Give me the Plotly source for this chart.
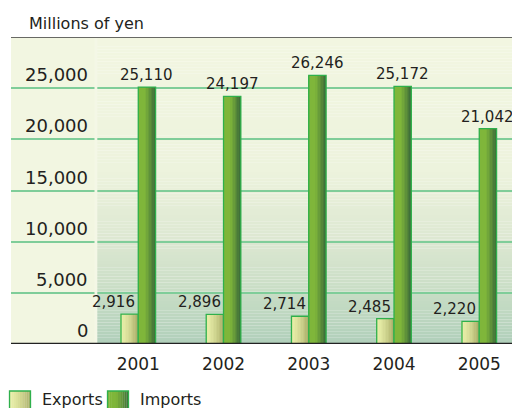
import plotly.graph_objects as go

# --- data -------------------------------------------------------------
years = ["2001", "2002", "2003", "2004", "2005"]
exports = [2916, 2896, 2714, 2485, 2220]
imports = [25110, 24197, 26246, 25172, 21042]
y_ticks = [0, 5000, 10000, 15000, 20000, 25000]
y_tick_text = ["0", "5,000", "10,000", "15,000", "20,000", "25,000"]
unit_label = "Millions of yen"
series_names = ["Exports", "Imports"]

# --- geometry ---------------------------------------------------------
W, H = 512, 408
L, R, T, B = 11, 0, 37, 64
PW, PH = W - L - R, H - T - B
X_RANGE = [-1.493, 4.384]
Y_RANGE = [0, 30000]
BAR_W = 0.203
FONT = "DejaVu Sans"
INK = "#231f20"


def px_x(px):
    return (px - L) / PW


def px_y(py):
    return (H - B - py) / PH


def hex_rgb(h):
    h = h.lstrip("#")
    return tuple(int(h[i:i + 2], 16) for i in (0, 2, 4))


def mix(a, b, t):
    ca, cb = hex_rgb(a), hex_rgb(b)
    c = [round(ca[i] + (cb[i] - ca[i]) * t) for i in range(3)]
    return "rgb(%d,%d,%d)" % tuple(c)


def stops_color(stops, v):
    # stops: list of (value, colour) sorted by value
    for (v0, c0), (v1, c1) in zip(stops, stops[1:]):
        if v0 <= v <= v1:
            return mix(c0, c1, (v - v0) / (v1 - v0))
    return mix(stops[-1][1], stops[-1][1], 0)


EXP_STYLE = dict(left="#e8eea8", right="#a9ad68", profile=lambda s: s ** 1.6)
IMP_STYLE = dict(left="#7fb63a", right="#3b6a39",
                 profile=lambda s: max(0.0, (s - 0.4) / 0.6) ** 1.1)
BORDER = "#2fb04c"

xs = list(range(len(years)))
fig = go.Figure()


def gradient_bars(values, offset, style, n=12):
    for i in range(n):
        s = (i + 0.5) / n
        fig.add_trace(go.Bar(
            x=xs, y=values, offset=offset + i * BAR_W / n, width=BAR_W / n * 1.05,
            marker=dict(color=mix(style["left"], style["right"], style["profile"](s)),
                        line=dict(width=0)),
            showlegend=False, hoverinfo="skip"))
    fig.add_trace(go.Bar(
        x=xs, y=values, offset=offset, width=BAR_W,
        marker=dict(color="rgba(0,0,0,0)", line=dict(color=BORDER, width=1.3)),
        showlegend=False, hoverinfo="skip"))


gradient_bars(exports, -BAR_W, EXP_STYLE)
gradient_bars(imports, 0.0, IMP_STYLE)

shapes = []
# left label column
shapes.append(dict(type="rect", xref="paper", yref="y", x0=0, x1=px_x(97),
                   y0=Y_RANGE[0], y1=Y_RANGE[1], fillcolor="#f2f6e1",
                   line=dict(width=0), layer="below"))
# plot-area vertical gradient
bg_stops = [(0, "#b0cfba"), (5000, "#c8ddc5"), (10000, "#dce7d1"),
            (17000, "#edf3dd"), (30000, "#f2f6e1")]
band = 300
v = 0
while v < Y_RANGE[1]:
    shapes.append(dict(type="rect", xref="paper", yref="y", x0=px_x(97), x1=1,
                       y0=v, y1=v + band * 1.02,
                       fillcolor=stops_color(bg_stops, v + band / 2),
                       line=dict(width=0), layer="below"))
    v += band
# gap between label column and plot area
shapes.append(dict(type="rect", xref="paper", yref="y", x0=px_x(94.5), x1=px_x(97.3),
                   y0=Y_RANGE[0], y1=Y_RANGE[1], fillcolor="#f4f7e6",
                   line=dict(width=0), layer="above"))
# top rule and baseline
shapes.append(dict(type="line", xref="paper", yref="y", x0=0, x1=1,
                   y0=Y_RANGE[1], y1=Y_RANGE[1], line=dict(color="#3a3a3a", width=1.5),
                   layer="above"))
shapes.append(dict(type="line", xref="paper", yref="y", x0=0, x1=1,
                   y0=0, y1=0, line=dict(color="#222222", width=2.6), layer="above"))

annotations = []
# y tick labels sit above their gridlines
for val, txt in zip(y_ticks, y_tick_text):
    annotations.append(dict(x=px_x(89.5), xref="paper", y=val, yref="y",
                            xanchor="right", yanchor="middle", yshift=13.5,
                            text=txt, showarrow=False,
                            font=dict(family=FONT, size=18, color=INK)))
# value labels
for i, v_ in enumerate(exports):
    annotations.append(dict(x=i, y=v_, xref="x", yref="y", xanchor="right",
                            yanchor="middle", yshift=12, xshift=-1,
                            text=f"{v_:,}", showarrow=False,
                            font=dict(family=FONT, size=15, color=INK)))
for i, v_ in enumerate(imports):
    annotations.append(dict(x=i + BAR_W / 2, y=v_, xref="x", yref="y",
                            xanchor="center", yanchor="middle", yshift=12,
                            text=f"{v_:,}", showarrow=False,
                            font=dict(family=FONT, size=15, color=INK)))
# unit label
annotations.append(dict(x=px_x(27), xref="paper", y=px_y(24), yref="paper",
                        xanchor="left", yanchor="middle", text=unit_label,
                        showarrow=False, font=dict(family=FONT, size=16, color=INK)))

# legend drawn by hand
legend_items = [(series_names[0], EXP_STYLE, 9.5, 39.5),
                (series_names[1], IMP_STYLE, 107.5, 137.5)]
for name, style, sx, tx in legend_items:
    n = 10
    sw = 21
    for i in range(n):
        s = (i + 0.5) / n
        shapes.append(dict(type="rect", xref="paper", yref="paper",
                           x0=px_x(sx + i * sw / n), x1=px_x(sx + (i + 1.1) * sw / n),
                           y0=px_y(414), y1=px_y(391),
                           fillcolor=mix(style["left"], style["right"], style["profile"](s)),
                           line=dict(width=0), layer="above"))
    shapes.append(dict(type="rect", xref="paper", yref="paper",
                       x0=px_x(sx), x1=px_x(sx + sw), y0=px_y(414), y1=px_y(391),
                       fillcolor="rgba(0,0,0,0)", line=dict(color=BORDER, width=1.3),
                       layer="above"))
    annotations.append(dict(x=px_x(tx), xref="paper", y=px_y(399.5), yref="paper",
                            xanchor="left", yanchor="middle", text=name, showarrow=False,
                            font=dict(family=FONT, size=16, color=INK)))

fig.update_layout(
    width=W, height=H,
    margin=dict(l=L, r=R, t=T, b=B, autoexpand=False),
    paper_bgcolor="white", plot_bgcolor="rgba(0,0,0,0)",
    barmode="overlay",
    showlegend=False,
    shapes=shapes, annotations=annotations,
    xaxis=dict(range=X_RANGE, tickvals=xs, ticktext=years, showgrid=False,
               zeroline=False, showline=False, ticks="", ticklabelstandoff=8,
               tickfont=dict(family=FONT, size=17, color=INK), fixedrange=True),
    yaxis=dict(range=Y_RANGE, tickvals=y_ticks, showticklabels=False,
               showgrid=True, gridcolor="#7fcd99", gridwidth=1.5,
               zeroline=False, showline=False, ticks="", fixedrange=True),
)

fig.write_html("out.html", config={"displayModeBar": False})
